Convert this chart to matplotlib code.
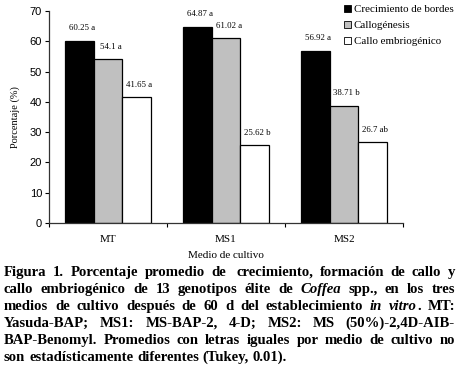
import numpy as np
import matplotlib
matplotlib.use('Agg')
import matplotlib.pyplot as plt
from matplotlib.patches import Patch

# Data
medios = ['MT', 'MS1', 'MS2']
crecimiento = [60.25, 64.87, 56.92]
callogenesis = [54.1, 61.02, 38.71]
embriogenico = [41.65, 25.62, 26.7]
letras_crec = ['a', 'a', 'a']
letras_callo = ['a', 'a', 'b']
letras_emb = ['a', 'b', 'ab']
series_names = ['Crecimiento de bordes', 'Callogénesis', 'Callo embriogénico']
yticks = [0, 10, 20, 30, 40, 50, 60, 70]

caption_lines = [
    "Figura 1. Porcentaje promedio de  crecimiento, formación de callo y",
    "callo embriogénico de 13 genotipos élite de *Coffea* spp., en los tres",
    "medios de cultivo después de 60 d del establecimiento *in vitro*. MT:",
    "Yasuda-BAP; MS1: MS-BAP-2, 4-D; MS2: MS (50%)-2,4D-AIB-",
    "BAP-Benomyl. Promedios con letras iguales por medio de cultivo no",
    "son estadísticamente diferentes (Tukey, 0.01).",
]

SERIF = 'Liberation Serif'
SANS = 'Liberation Sans'
W, H = 459, 370

fig = plt.figure(figsize=(W / 100, H / 100), dpi=100)
fig.patch.set_facecolor('white')
ax = fig.add_axes([49 / W, 1 - 223 / H, (403 - 49) / W, (223 - 11) / H])

x = np.arange(len(medios))
bw = 0.243
colors = ['black', '#c0c0c0', 'white']
all_vals = [crecimiento, callogenesis, embriogenico]
all_letters = [letras_crec, letras_callo, letras_emb]
for i, (vals, lets, col) in enumerate(zip(all_vals, all_letters, colors)):
    pos = x + (i - 1) * bw
    ax.bar(pos, vals, width=bw, color=col, edgecolor='black', linewidth=0.9, zorder=2)
    for p, v, l in zip(pos, vals, lets):
        lab = f"{v:g} {l}"
        ax.annotate(lab, (p, v), xytext=(2, 6), textcoords='offset points',
                    ha='center', va='bottom', fontsize=6.3, family=SERIF)

ax.set_xlim(-0.5, 2.5)
ax.set_ylim(0, 70)
ax.set_yticks(yticks)
ax.set_yticklabels([str(t) for t in yticks], family=SANS, fontsize=8)
ax.set_xticks([-0.5, 0.5, 1.5, 2.5])
ax.set_xticklabels([])
ax.set_xticks(x, minor=True)
ax.set_xticklabels(medios, minor=True, family=SERIF, fontsize=8)
ax.tick_params(axis='x', which='minor', length=0, pad=9)
ax.tick_params(axis='x', which='major', length=3, width=0.8, direction='out')
ax.tick_params(axis='y', length=3, width=0.8, direction='out', pad=2)
for s in ['top', 'right']:
    ax.spines[s].set_visible(False)
for s in ['left', 'bottom']:
    ax.spines[s].set_linewidth(0.9)
    ax.spines[s].set_color('#333333')
ax.set_ylabel('Porcentaje (%)', family=SERIF, fontsize=7.5, labelpad=7)
ax.set_xlabel('Medio de cultivo', family=SERIF, fontsize=8, labelpad=5)

handles = [Patch(facecolor=c, edgecolor='black', linewidth=0.6) for c in colors]
fig.legend(handles, series_names, loc='upper left',
           bbox_to_anchor=(344 / W, 1 - 5 / H), frameon=False,
           prop={'family': SERIF, 'size': 7.9}, handlelength=0.6,
           handleheight=0.6, handletextpad=0.3, labelspacing=0.6,
           borderaxespad=0, borderpad=0)

# Justified caption, drawn word by word
renderer = fig.canvas.get_renderer()
cap_size = 10.6
left_px, right_px = 4, 455
base_px, line_h = 276, 17.0

def measure(s, style):
    t = fig.text(0, 0, s, family=SERIF, fontsize=cap_size, weight='bold', style=style)
    w = t.get_window_extent(renderer).width
    t.remove()
    return w

space_w = measure('a a', 'normal') - measure('aa', 'normal')
italic = False
for li, line in enumerate(caption_lines):
    words = []
    extra = []
    for wtxt in line.split(' '):
        if wtxt == '':
            extra[-1] += space_w
            continue
        segs = []
        for k, part in enumerate(wtxt.split('*')):
            if k > 0:
                italic = not italic
            if part:
                segs.append((part, 'italic' if italic else 'normal'))
        words.append(segs)
        extra.append(0.0)
    widths = [[measure(s, st) for s, st in segs] for segs in words]
    total = sum(sum(w) for w in widths) + sum(extra)
    ngaps = len(words) - 1
    if li < len(caption_lines) - 1 and ngaps > 0:
        gap = (right_px - left_px - total) / ngaps
    else:
        gap = space_w
    xp = left_px
    yp = H - (base_px + li * line_h)
    for segs, ws, ex in zip(words, widths, extra):
        for (s, st), w in zip(segs, ws):
            fig.text(xp / W, yp / H, s, family=SERIF, fontsize=cap_size,
                     weight='bold', style=st, ha='left', va='baseline')
            xp += w
        xp += gap + ex

fig.savefig('out.png', dpi=100, facecolor='white')
